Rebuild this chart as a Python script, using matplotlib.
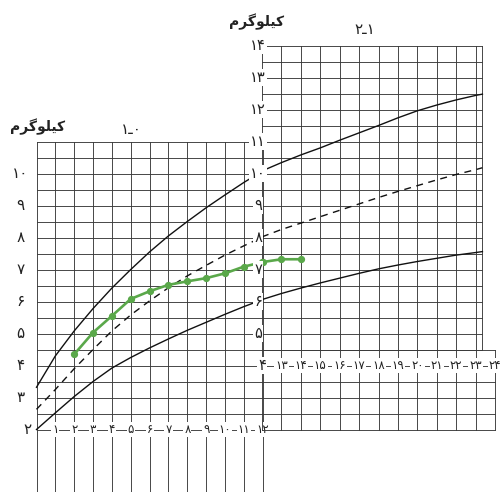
import numpy as np
import matplotlib
matplotlib.use("Agg")
import matplotlib.pyplot as plt

plt.rcParams['font.family'] = ['DejaVu Sans']

# ---------------- data ----------------
ages_first_year = [0, 1, 2, 3, 4, 5, 6, 7, 8, 9, 10, 11, 12]
upper_first_year = [3.32, 4.3, 5.08, 5.78, 6.42, 7.0, 7.55, 8.05, 8.5, 8.93, 9.33, 9.72, 10.08]
middle_first_year = [2.63, 3.25, 3.9, 4.5, 5.08, 5.58, 6.02, 6.43, 6.8, 7.13, 7.45, 7.74, 8.02]
lower_first_year = [2.0, 2.52, 3.03, 3.5, 3.92, 4.25, 4.55, 4.83, 5.1, 5.35, 5.6, 5.84, 6.06]

ages_second_year = [12, 13, 14, 15, 16, 17, 18, 19, 20, 21, 22, 23, 23.35]
upper_second_year = [10.08, 10.34, 10.58, 10.8, 11.04, 11.27, 11.5, 11.74, 11.96, 12.14, 12.3, 12.44, 12.48]
middle_second_year = [8.02, 8.25, 8.45, 8.65, 8.85, 9.05, 9.25, 9.44, 9.62, 9.8, 9.97, 10.12, 10.18]
lower_second_year = [6.06, 6.25, 6.42, 6.58, 6.73, 6.88, 7.02, 7.14, 7.25, 7.35, 7.45, 7.53, 7.56]

child_months = [2, 3, 4, 5, 6, 7, 8, 9, 10, 11, 12, 13, 14]
child_weight = [4.35, 5.03, 5.55, 6.08, 6.32, 6.52, 6.63, 6.73, 6.88, 7.09, 7.23, 7.32, 7.32]

left_y_ticks = [3, 4, 5, 6, 7, 8, 9, 10]
left_x_ticks = list(range(1, 13))
right_y_ticks = [5, 6, 7, 8, 9, 10, 11, 12, 13, 14]
right_x_ticks = list(range(13, 25))

left_panel_label = "۱ـ۰"
right_panel_label = "۲ـ۱"

# ---------------- helpers ----------------
FA = str.maketrans("0123456789", "۰۱۲۳۴۵۶۷۸۹")


def fa(n):
    return str(n).translate(FA)


def shape_kilogram():
    # visual (left-to-right) presentation forms of "کیلوگرم"
    return "\uFEE1\uFEAE\uFB94\uFEEE\uFEE0\uFBFF\uFB90"


W, H = 501, 492
fig = plt.figure(figsize=(W / 100, H / 100), dpi=100)
fig.patch.set_facecolor("white")

# pixel mapping
L_X0, L_PX = 36.5, 18.85     # left panel: month 0 px, px per month
R_X12, R_PX = 262.0, 19.42   # right panel: month 12 px, px per month
Y2, Y_PX = 429.5, 32.0       # 2 kg px from top, px per kg

ylim = (2 - (H - Y2) / Y_PX, 2 + Y2 / Y_PX)

axL = fig.add_axes([0, 0, 1, 1])
axR = fig.add_axes([0, 0, 1, 1])
axL.set_xlim(-L_X0 / L_PX, (W - L_X0) / L_PX)
axR.set_xlim(12 - R_X12 / R_PX, 12 + (W - R_X12) / R_PX)
for ax in (axL, axR):
    ax.set_ylim(*ylim)
    ax.set_axis_off()
    ax.patch.set_alpha(0)

gc = "#3a3a3a"
glw = 0.65

# ---------------- left panel grid ----------------
left_top = 11
for m in range(0, 13):
    axL.plot([m, m], [ylim[0], left_top], color=gc, lw=glw, zorder=1)
for kg in np.arange(2, left_top + 0.01, 0.5):
    axL.plot([0, 12], [kg, kg], color=gc, lw=glw, zorder=1)

# ---------------- right panel grid ----------------
right_top = 14
upper_end = 23.35
for m in range(12, 24):
    axR.plot([m, m], [2, right_top], color=gc, lw=glw, zorder=1)
axR.plot([upper_end, upper_end], [4.5, right_top], color=gc, lw=glw, zorder=1)
axR.plot([24, 24], [2, 4.5], color=gc, lw=glw, zorder=1)
for kg in np.arange(4.5, right_top + 0.01, 0.5):
    axR.plot([12, upper_end], [kg, kg], color=gc, lw=glw, zorder=1)
for kg in np.arange(2, 4.51, 0.5):
    axR.plot([12, 24], [kg, kg], color=gc, lw=glw, zorder=1)

# ---------------- reference curves ----------------
clw = 1.0
kw = dict(color="#111111", lw=clw, zorder=3, solid_joinstyle="round")
axL.plot(ages_first_year, upper_first_year, **kw)
axL.plot(ages_first_year, middle_first_year, dashes=(5, 4), **kw)
axL.plot(ages_first_year, lower_first_year, **kw)
axR.plot(ages_second_year, upper_second_year, **kw)
axR.plot(ages_second_year, middle_second_year, dashes=(5, 4), **kw)
axR.plot(ages_second_year, lower_second_year, **kw)

# ---------------- child's weight ----------------
green = "#5aa84a"
cm = np.array(child_months)
cw = np.array(child_weight)
mL = cm <= 12
mR = cm >= 12
axL.plot(cm[mL], cw[mL], color=green, lw=1.9, marker="o", ms=4.2, zorder=5)
axR.plot(cm[mR], cw[mR], color=green, lw=1.9, marker="o", ms=4.2, zorder=5)

# ---------------- tick labels ----------------
box = dict(boxstyle="square,pad=0.08", fc="white", ec="none")
for kg in left_y_ticks:
    axL.text(-0.85, kg, fa(kg), ha="center", va="center", fontsize=11, color="#222")
axL.text(-0.47, 2, fa(2), ha="center", va="center", fontsize=11, color="#222")
for m in left_x_ticks:
    axL.text(m, 2, fa(m), ha="center", va="center", fontsize=8.5, color="#222",
             bbox=box, zorder=6)

for kg in right_y_ticks:
    axR.text(11.8, kg, fa(kg), ha="center", va="center", fontsize=10.5, color="#222",
             bbox=box, zorder=6)
axR.text(12, 4, fa(4), ha="center", va="center", fontsize=10.5, color="#222",
         bbox=box, zorder=6)
for m in right_x_ticks:
    axR.text(m, 4, fa(m), ha="center", va="center", fontsize=8.5, color="#222",
             bbox=box, zorder=6)

# ---------------- titles ----------------
fig.text(38 / W, 1 - 127 / H, shape_kilogram(), ha="center", va="center",
         fontsize=10, fontweight="bold", color="#222")
fig.text(257 / W, 1 - 22 / H, shape_kilogram(), ha="center", va="center",
         fontsize=10, fontweight="bold", color="#222")
fig.text(131 / W, 1 - 130 / H, left_panel_label, ha="center", va="center",
         fontsize=11, color="#222")
fig.text(365 / W, 1 - 30 / H, right_panel_label, ha="center", va="center",
         fontsize=11, color="#222")

fig.savefig("out.png", dpi=100, facecolor="white")
